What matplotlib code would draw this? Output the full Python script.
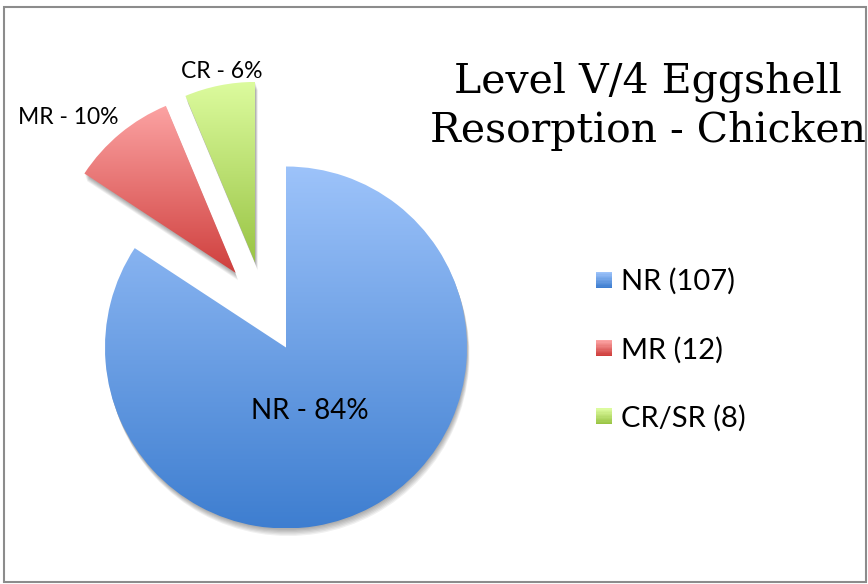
import matplotlib
matplotlib.use("Agg")
import matplotlib.pyplot as plt
import matplotlib.patheffects as pe
import numpy as np
from matplotlib.colors import LinearSegmentedColormap, to_rgb
from matplotlib.legend_handler import HandlerBase
from matplotlib.patches import Rectangle

# ------------------------------------------------------------------
# Data
# ------------------------------------------------------------------

categories = ["NR", "MR", "CR/SR"]
counts = [107, 12, 8]
slice_labels = ["NR - 84%", "MR - 10%", "CR - 6%"]
legend_labels = ["NR (107)", "MR (12)", "CR/SR (8)"]

# gradient (top, bottom) for each slice
top_colors = ["#9dc3fa", "#fca3a3", "#dcfb9e"]
bottom_colors = ["#3e7ed0", "#cf3f3d", "#99c444"]

TITLE = "Level V/4 Eggshell\nResorption - Chicken"

W, H = 868, 584
CENTER = (286, H - 347.5)
RADIUS = 181
# explode: distance (px) and direction (deg) per slice
EXPLODE_DIST = [0, 90, 90]
EXPLODE_DEG = [0, 124, 110]

INNER_FONT = {"family": "Lato", "size": 20}
OUTER_FONT = {"family": "Lato", "size": 16.5}


class GradientHandler(HandlerBase):
    def __init__(self, top, bottom, n=12):
        super().__init__()
        self.top, self.bottom, self.n = to_rgb(top), to_rgb(bottom), n

    def create_artists(self, legend, orig_handle, xdescent, ydescent,
                       width, height, fontsize, trans):
        arts = []
        side = min(width, height)
        y0 = -ydescent + (height - side) / 2
        for i in range(self.n):
            t = i / (self.n - 1)
            c = tuple(b + (a - b) * t for a, b in zip(self.top, self.bottom))
            arts.append(Rectangle((-xdescent, y0 + side * i / self.n), side,
                                  side / self.n + 0.2, facecolor=c,
                                  edgecolor="none", transform=trans))
        return arts


fig = plt.figure(figsize=(W / 100, H / 100), dpi=100)
ax = fig.add_axes([0, 0, 1, 1])

wedges, _ = ax.pie(counts, startangle=90, counterclock=False,
                   center=CENTER, radius=RADIUS, frame=True,
                   wedgeprops=dict(linewidth=0))
ax.set_aspect("equal")
ax.axis("off")

shadow = [pe.SimplePatchShadow(offset=(0.3 * k, -0.9 * k), shadow_rgbFace="black",
                               alpha=0.06) for k in range(1, 7)]

for w, dist, deg, ct, cb in zip(wedges, EXPLODE_DIST, EXPLODE_DEG, top_colors, bottom_colors):
    cx, cy = CENTER
    w.set_center((cx + dist * np.cos(np.radians(deg)), cy + dist * np.sin(np.radians(deg))))
    w.set_facecolor("none")
    w.set_path_effects(shadow + [pe.Normal()])
    ext = w.get_path().get_extents()
    cmap = LinearSegmentedColormap.from_list("g", [cb, ct])
    grad = np.linspace(0, 1, 256).reshape(-1, 1)
    im = ax.imshow(grad, cmap=cmap, origin="lower", aspect="auto",
                   extent=(ext.x0, ext.x1, ext.y0, ext.y1), zorder=2,
                   interpolation="bilinear")
    im.set_clip_path(w)

ax.set_xlim(0, W)
ax.set_ylim(0, H)

# slice labels
ax.text(310, H - 411, slice_labels[0], fontdict=INNER_FONT, ha="center", va="center", zorder=5)
ax.text(68, H - 117, slice_labels[1], fontdict=OUTER_FONT, ha="center", va="center", zorder=5)
ax.text(222, H - 72, slice_labels[2], fontdict=OUTER_FONT, ha="center", va="center", zorder=5)

# title
ax.text(648, H - 62, TITLE, fontsize=29.5, family="DejaVu Serif", ha="center", va="top",
        linespacing=1.28, zorder=5)

# legend
proxies = [Rectangle((0, 0), 1, 1) for _ in categories]
handler_map = {p: GradientHandler(t, b) for p, t, b in zip(proxies, top_colors, bottom_colors)}
leg = ax.legend(proxies, legend_labels, handler_map=handler_map,
                loc="center left", bbox_to_anchor=(596 / W, (H - 350) / H),
                frameon=False, prop={"family": "Lato", "size": 21},
                handlelength=0.55, handleheight=0.55, handletextpad=0.3,
                labelspacing=1.42, borderpad=0, borderaxespad=0)

# outer border
ax.add_patch(Rectangle((4, 2), W - 6, H - 9, fill=False, edgecolor="#8c8c8c",
                       linewidth=1.5, zorder=6))

fig.savefig("out.png", dpi=100)
